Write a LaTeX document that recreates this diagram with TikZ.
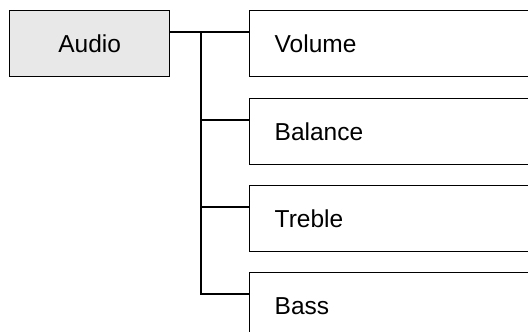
\documentclass[tikz,border=0pt]{standalone}
\usepackage{fontspec}
\setmainfont{Liberation Sans}
\usetikzlibrary{positioning}

\begin{document}
\begin{tikzpicture}[x=1pt,y=1pt,line width=1.4pt,
    every node/.style={draw=black,rectangle,minimum height=66pt,
      font=\fontsize{24.5}{28}\selectfont},
    parentbox/.style={fill=black!9,minimum width=160pt,inner sep=0pt},
    childbox/.style={fill=white,text width=250pt,inner xsep=25pt,
      align=left,anchor=north west}]
    \useasboundingbox (0,0) rectangle (528,-332);
    \clip (0,0) rectangle (528,-332);
    \node[parentbox,anchor=north west] (audio) at (9,-10) {Audio};
    \node[childbox] (volume) at (249,-10) {Volume};
    \node[childbox] (balance) at (249,-98) {Balance};
    \node[childbox] (treble) at (249,-185) {Treble};
    \node[childbox] (bass) at (249,-272) {Bass};
    % where the lines meet the boxes
    \coordinate (audio-out) at ([yshift=-22pt]audio.north east);
    \foreach \n in {volume,balance,treble,bass}
      \coordinate (\n-in) at ([yshift=-22pt]\n.north west);
    \coordinate (trunk) at (201,-32);
    \draw (audio-out) -- (volume-in);
    \draw (trunk) |- (bass-in);
    \draw (trunk |- balance-in) -- (balance-in);
    \draw (trunk |- treble-in) -- (treble-in);
\end{tikzpicture}
\end{document}
